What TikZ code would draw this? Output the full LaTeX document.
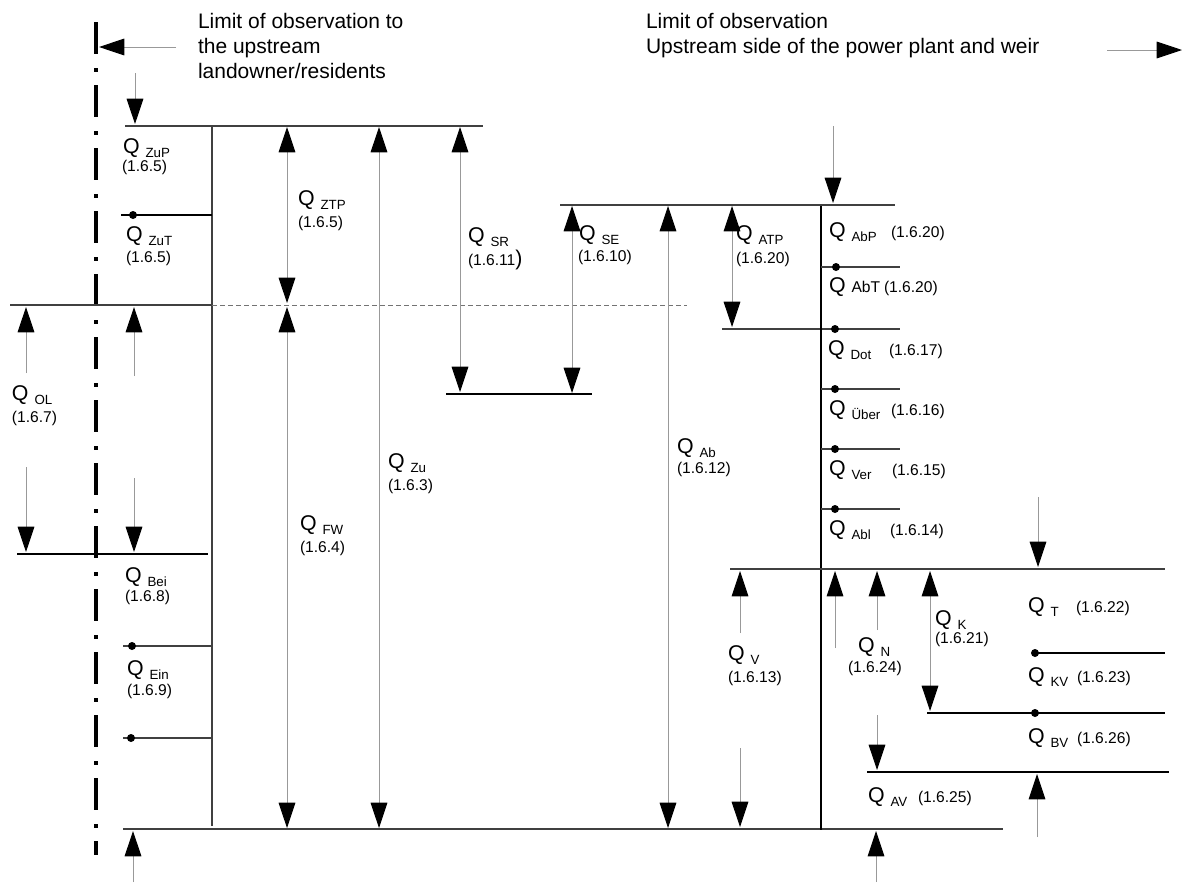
\documentclass[tikz,border=0pt]{standalone}
\usepackage{fontspec}
\setmainfont{Liberation Sans}
\usetikzlibrary{arrows.meta}
\newcommand{\Qs}[1]{{\fontsize{16}{19}\selectfont Q\ }{\fontsize{10}{12}\selectfont\raisebox{-3pt}{#1}}}
\tikzset{
  hd/.tip={Triangle[length=19pt,width=12.5pt,color=black]},
  arr/.style={draw=black!40, line width=0.7pt, -hd},
  darr/.style={draw=black!40, line width=0.7pt, hd-hd},
  lvl/.style={draw=black!75, line width=0.9pt},
  blk/.style={draw=black, line width=1pt},
  dotm/.style={fill=black, circle, inner sep=0pt, minimum size=6pt},
  lbl/.style={anchor=base west, inner sep=0pt, outer sep=0pt},
  num/.style={lbl, font=\fontsize{11.7}{13}\selectfont},
  big/.style={lbl, font=\fontsize{15.75}{19}\selectfont},
}
\begin{document}
\begin{tikzpicture}[x=0.75pt,y=-0.75pt]
\useasboundingbox (0,0) rectangle (1184,882);
% boundary dash-dot line
\draw[line width=2.6pt, dash pattern=on 24pt off 10.5pt on 3pt off 9.75pt] (96,22) -- (96,855);
% headings
\node[big] (t1) at (198,28) {Limit of observation to};
\node[big] (t2) at (198,53) {the upstream};
\node[big] (t3) at (198,78) {landowner/residents};
\node[big] (t4) at (646,28) {Limit of observation};
\node[big] (t5) at (646,53) {Upstream side of the power plant and weir};
\draw[arr] (176,47) -- (99,47);
\draw[arr] (1107,50) -- (1182,50);
% left structure
\draw[lvl] (125,126) -- (483,126);
\draw[lvl] (212,126) -- (212,826);
\draw[blk, line width=1.4pt] (121,215) -- (212,215);
\node[dotm] (d1) at (133,215) {};
\draw[lvl] (10,305) -- (212,305);
\draw[draw=black!55, line width=0.7pt, dash pattern=on 3.5pt off 2.5pt] (212,305) -- (687,305);
\draw[blk] (17,554) -- (208,554);
\draw[lvl] (123,646) -- (212,646);
\node[dotm] (d2) at (132,646) {};
\draw[lvl] (123,738) -- (212,738);
\node[dotm] (d3) at (131,738) {};
\draw[lvl] (123,829) -- (1003,829);
% middle structure
\draw[lvl] (560,205) -- (895,205);
\draw[blk] (446,394) -- (592,394);
\draw[lvl] (722,329) -- (900,329);
\node[dotm] (d4) at (835,329) {};
\draw[blk] (821,206) -- (821,830);
\draw[lvl] (821,267) -- (900,267);
\node[dotm] (d5) at (836,267) {};
\draw[lvl] (821,389) -- (900,389);
\node[dotm] (d6) at (835,389) {};
\draw[lvl] (821,449) -- (900,449);
\node[dotm] (d7) at (835,449) {};
\draw[lvl] (821,509) -- (900,509);
\node[dotm] (d8) at (835,509) {};
% right structure
\draw[lvl] (730,569) -- (1165,569);
\draw[blk] (1033,653) -- (1165,653);
\node[dotm] (d9) at (1035,653) {};
\draw[blk] (927,713) -- (1165,713);
\node[dotm] (d10) at (1035,713) {};
\draw[blk] (867,772) -- (1169,772);
% arrows
\draw[arr] (135,73) -- (135,124);
\draw[darr] (287,127) -- (287,303);
\draw[darr] (287,307) -- (287,828);
\draw[darr] (379,127) -- (379,828);
\draw[darr] (460,127) -- (460,392);
\draw[darr] (572,206) -- (572,393);
\draw[darr] (668,206) -- (668,828);
\draw[darr] (732,206) -- (732,327);
\draw[arr] (833,126) -- (833,203);
\draw[arr] (26,373) -- (26,307);
\draw[arr] (26,467) -- (26,552);
\draw[arr] (134,376) -- (134,307);
\draw[arr] (134,478) -- (134,552);
\draw[arr] (133,882) -- (133,831);
\draw[arr] (740,633) -- (740,571);
\draw[arr] (740,748) -- (740,827);
\draw[arr] (835,648) -- (835,571);
\draw[arr] (877,630) -- (877,571);
\draw[arr] (877,715) -- (877,770);
\draw[darr] (930,571) -- (930,711);
\draw[arr] (1038,497) -- (1038,567);
\draw[arr] (1037,837) -- (1037,774);
\draw[arr] (876,882) -- (876,831);
% labels
\node[lbl] (qzup) at (123,153) {\Qs{ZuP}};
\node[num] (nzup) at (122,171) {(1.6.5)};
\node[lbl] (qzut) at (126,241) {\Qs{ZuT}};
\node[num] (nzut) at (126,262) {(1.6.5)};
\node[lbl] (qztp) at (298,205) {\Qs{ZTP}};
\node[num] (nztp) at (298,227) {(1.6.5)};
\node[lbl] (qsr) at (468,242) {\Qs{SR}};
\node[num] (nsr) at (468,265) {(1.6.11{\fontsize{16}{19}\selectfont )}};
\node[lbl] (qse) at (579,240) {\Qs{SE}};
\node[num] (nse) at (578,261) {(1.6.10)};
\node[lbl] (qatp) at (736,240) {\Qs{ATP}};
\node[num] (natp) at (736,263) {(1.6.20)};
\node[lbl] (qabp) at (829,237) {\Qs{AbP}};
\node[num] (nabp) at (891,237) {(1.6.20)};
\node[lbl] (qabt) at (829,292) {{\fontsize{16}{19}\selectfont Q }{\fontsize{11.7}{13}\selectfont AbT}};
\node[num] (nabt) at (884,292) {(1.6.20)};
\node[lbl] (qdot) at (828,355) {\Qs{Dot}};
\node[num] (ndot) at (889,355) {(1.6.17)};
\node[lbl] (queb) at (829,415) {\Qs{Über}};
\node[num] (nueb) at (891,415) {(1.6.16)};
\node[lbl] (qver) at (829,475) {\Qs{Ver}};
\node[num] (nver) at (892,475) {(1.6.15)};
\node[lbl] (qabl) at (829,535) {\Qs{Abl}};
\node[num] (nabl) at (890,535) {(1.6.14)};
\node[lbl] (qol) at (12,400) {\Qs{OL}};
\node[num] (nol) at (12,422) {(1.6.7)};
\node[lbl] (qfw) at (300,530) {\Qs{FW}};
\node[num] (nfw) at (300,552) {(1.6.4)};
\node[lbl] (qzu) at (388,468) {\Qs{Zu}};
\node[num] (nzu) at (388,490) {(1.6.3)};
\node[lbl] (qab) at (677,453) {\Qs{Ab}};
\node[num] (nab) at (677,473) {(1.6.12)};
\node[lbl] (qbei) at (125,582) {\Qs{Bei}};
\node[num] (nbei) at (125,601) {(1.6.8)};
\node[lbl] (qein) at (127,675) {\Qs{Ein}};
\node[num] (nein) at (127,695) {(1.6.9)};
\node[lbl] (qv) at (728,660) {\Qs{V}};
\node[num] (nv) at (728,682) {(1.6.13)};
\node[lbl] (qn) at (858,652) {\Qs{N}};
\node[num] (nn) at (848,672) {(1.6.24)};
\node[lbl] (qk) at (935,625) {\Qs{K}};
\node[num] (nk) at (935,643) {(1.6.21)};
\node[lbl] (qt) at (1028,612) {\Qs{T}};
\node[num] (nt) at (1076,612) {(1.6.22)};
\node[lbl] (qkv) at (1028,682) {\Qs{KV}};
\node[num] (nkv) at (1077,682) {(1.6.23)};
\node[lbl] (qbv) at (1028,743) {\Qs{BV}};
\node[num] (nbv) at (1077,743) {(1.6.26)};
\node[lbl] (qav) at (868,802) {\Qs{AV}};
\node[num] (nav) at (918,802) {(1.6.25)};
\end{tikzpicture}
\end{document}
